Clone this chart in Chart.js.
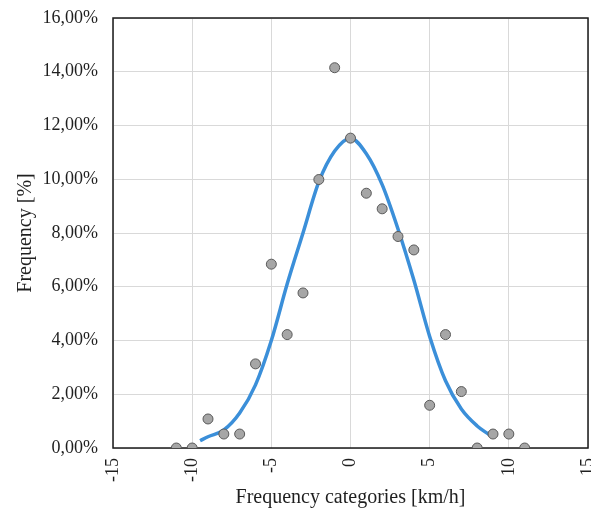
<!DOCTYPE html>
<html>
<head>
<meta charset="utf-8">
<script src="https://cdn.jsdelivr.net/npm/chart.js@4"></script>
<style>
html,body{margin:0;padding:0;background:#fff;}
#wrap{width:591px;height:510px;position:relative;}
</style>
</head>
<body>
<div id="wrap"><canvas id="c" width="591" height="510"></canvas></div>
<script>
// Observed frequencies (x = km/h category, y = %)
const obsX = [-11, -10, -9, -8, -7, -6, -5, -4, -3, -2, -1, 0, 1, 2, 3, 4, 5, 6, 7, 8, 9, 10, 11];
const obsY = [0, 0, 1.08, 0.52, 0.52, 3.13, 6.84, 4.22, 5.77, 9.99, 14.15, 11.53, 9.48, 8.90, 7.87, 7.37, 1.59, 4.22, 2.10, 0, 0.52, 0.52, 0];
// Fitted curve
const fitX = [-9.5, -9, -8, -7, -6, -5, -4, -3, -2, -1, 0, 1, 2, 3, 4, 5, 6, 7, 8, 8.75];
const fitY = [0.27, 0.42, 0.67, 1.30, 2.35, 4.00, 6.10, 8.00, 9.90, 11.05, 11.53, 10.95, 9.80, 8.15, 6.25, 4.15, 2.50, 1.45, 0.82, 0.50];
const xTicks = [-15, -10, -5, 0, 5, 10, 15];
const yTicks = [0, 2, 4, 6, 8, 10, 12, 14, 16];

const FONT = "'Liberation Serif', 'Times New Roman', serif";
const boxPlugin = {
  id: 'box',
  beforeDatasetsDraw(chart) {
    const a = chart.chartArea, ctx = chart.ctx;
    ctx.save();
    ctx.strokeStyle = '#1a1a1a';
    ctx.lineWidth = 1.5;
    ctx.strokeRect(a.left, a.top, a.right - a.left, a.bottom - a.top);
    ctx.restore();
  }
};

new Chart(document.getElementById('c'), {
  type: 'scatter',
  data: {
    datasets: [
      {
        label: 'Observed',
        data: obsX.map((x, i) => ({x: x, y: obsY[i]})),
        backgroundColor: '#a6a6a6',
        borderColor: '#595959',
        borderWidth: 1,
        pointRadius: 5,
        showLine: false
      },
      {
        label: 'Fit',
        data: fitX.map((x, i) => ({x: x, y: fitY[i]})),
        showLine: true,
        borderColor: '#3b8fd9',
        borderWidth: 3.5,
        pointRadius: 0,
        cubicInterpolationMode: 'monotone',
        fill: false
      }
    ]
  },
  options: {
    responsive: false,
    animation: false,
    layout: {autoPadding: false, padding: {left: 0, right: 3, top: 18, bottom: 0}},
    plugins: {legend: {display: false}, tooltip: {enabled: false}},
    scales: {
      x: {
        type: 'linear',
        min: -15, max: 15,
        afterBuildTicks(s) { s.ticks = xTicks.map(v => ({value: v})); },
        afterFit(s) { s.height = 62; s.paddingLeft = 0; s.paddingRight = 0; },
        grid: {color: '#d9d9d9', lineWidth: 1, drawTicks: false},
        border: {display: false},
        ticks: {
          color: '#1f1f1f', font: {family: FONT, size: 18},
          padding: 10, maxRotation: 90, minRotation: 90, autoSkip: false,
          callback: v => String(v)
        },
        title: {display: true, text: 'Frequency categories [km/h]', color: '#1f1f1f',
          font: {family: FONT, size: 20}, padding: {top: 0, bottom: 0}}
      },
      y: {
        type: 'linear',
        min: 0, max: 16,
        afterBuildTicks(s) { s.ticks = yTicks.map(v => ({value: v})); },
        afterFit(s) { s.width = 113; s.paddingTop = 0; s.paddingBottom = 0; },
        grid: {color: '#d9d9d9', lineWidth: 1, drawTicks: false},
        border: {display: false},
        ticks: {
          color: '#1f1f1f', font: {family: FONT, size: 18},
          padding: 15,
          callback: v => v.toFixed(2).replace('.', ',') + '%'
        },
        title: {display: true, text: 'Frequency [%]', color: '#1f1f1f',
          font: {family: FONT, size: 20}, padding: {top: 14, bottom: 0}}
      }
    }
  },
  plugins: [boxPlugin]
});
</script>
</body>
</html>
